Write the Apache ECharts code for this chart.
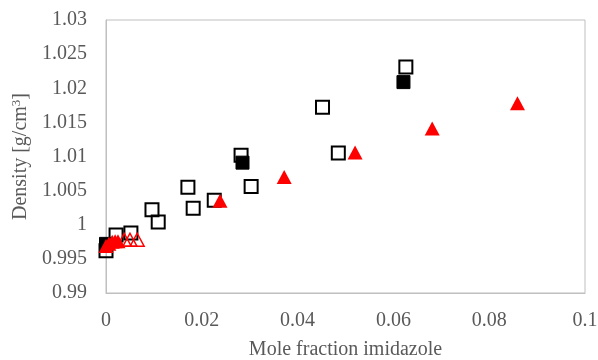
<!DOCTYPE html>
<html>
<head>
<meta charset="utf-8">
<script src="https://cdn.jsdelivr.net/npm/echarts@6/dist/echarts.min.js"></script>
<style>html,body{margin:0;padding:0;background:#fff}#c{width:598px;height:360px}</style>
</head>
<body>
<div id="c"></div>
<script>
// Open squares
var openSqX = [0.0, 0.0021, 0.0052, 0.0096, 0.0109, 0.0171, 0.0182, 0.0226, 0.0282, 0.0303, 0.0452, 0.0485, 0.0626];
var openSqY = [0.9962, 0.9985, 0.9988, 1.0022, 1.0004, 1.0055, 1.0024, 1.0036, 1.0102, 1.0056, 1.0172, 1.0105, 1.0231];
// Filled squares
var fillSqX = [0.0, 0.0285, 0.0621];
var fillSqY = [0.9972, 1.0091, 1.0209];
// Filled red triangles
var fillTriX = [0.0, 0.0006, 0.0013, 0.0019, 0.0025, 0.0238, 0.0372, 0.0520, 0.0681, 0.0859];
var fillTriY = [0.9969, 0.9972, 0.9975, 0.9976, 0.9976, 1.0035, 1.0070, 1.0106, 1.0141, 1.0178];
// Open red triangles
var openTriX = [0.0038, 0.0050, 0.0065];
var openTriY = [0.9978, 0.9978, 0.9978];

function pairs(xs, ys) { return xs.map(function (x, i) { return [x, ys[i]]; }); }

var font = 'Liberation Serif';
var grey = '#595959';
var chart = echarts.init(document.getElementById('c'));
chart.setOption({
  animation: false,
  backgroundColor: '#fff',
  grid: { left: 106, right: 13, top: 20, bottom: 67, containLabel: false, outerBoundsMode: 'none',
          show: true, borderColor: '#bfbfbf', borderWidth: 1, backgroundColor: 'transparent' },
  xAxis: {
    type: 'value', min: 0, max: 0.1, interval: 0.02,
    name: 'Mole fraction imidazole', nameLocation: 'middle', nameGap: 47,
    nameTextStyle: { fontFamily: font, fontSize: 20, color: grey },
    axisLine: { show: true, lineStyle: { color: '#bfbfbf' } },
    axisTick: { show: false }, splitLine: { show: false },
    axisLabel: { fontFamily: font, fontSize: 20, color: grey, margin: 18 }
  },
  yAxis: {
    type: 'value', min: 0.99, max: 1.03, interval: 0.005,
    name: '{a|Density [g/cm}{s|3}{a|]}', nameLocation: 'middle', nameGap: 74,
    nameTextStyle: { rich: { a: { fontFamily: font, fontSize: 20, color: grey }, s: { fontFamily: font, fontSize: 13, color: grey, verticalAlign: 'top', padding: [0, 0, 9, 0] } } },
    axisLine: { show: true, lineStyle: { color: '#bfbfbf' } },
    axisTick: { show: false }, splitLine: { show: false },
    axisLabel: { fontFamily: font, fontSize: 20, color: grey, margin: 19 }
  },
  series: [
    { type: 'scatter', data: pairs(openSqX, openSqY), symbol: 'rect', symbolSize: 13,
      itemStyle: { color: 'transparent', borderColor: '#000', borderWidth: 2, opacity: 1 } },
    { type: 'scatter', data: pairs(fillSqX, fillSqY), symbol: 'rect', symbolSize: 13,
      itemStyle: { color: '#000', borderColor: '#000', borderWidth: 1, opacity: 1 } },
    { type: 'scatter', data: pairs(fillTriX, fillTriY), symbol: 'triangle', symbolSize: [15, 14],
      itemStyle: { color: '#ff0000', opacity: 1 } },
    { type: 'scatter', data: pairs(openTriX, openTriY), symbol: 'triangle', symbolSize: [14, 13],
      itemStyle: { color: 'transparent', borderColor: '#ff0000', borderWidth: 1.5, opacity: 1 } }
  ]
});
</script>
</body>
</html>
